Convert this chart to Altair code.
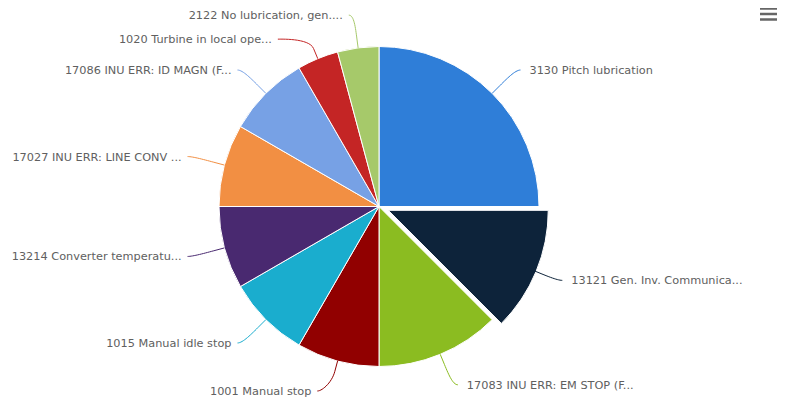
import altair as alt
import pandas as pd
import numpy as np

# ---- data ----
names = [
    "3130 Pitch lubrication",
    "13121 Gen. Inv. Communica...",
    "17083 INU ERR: EM STOP (F...",
    "1001 Manual stop",
    "1015 Manual idle stop",
    "13214 Converter temperatu...",
    "17027 INU ERR: LINE CONV ...",
    "17086 INU ERR: ID MAGN (F...",
    "1020 Turbine in local ope...",
    "2122 No lubrication, gen....",
]
counts = [6, 3, 3, 2, 2, 2, 2, 2, 1, 1]
sliced = [False, True, False, False, False, False, False, False, False, False]
colors = ["#2f7ed8", "#0d233a", "#8bbc21", "#910000", "#1aadce",
          "#492970", "#f28f43", "#77a1e5", "#c42525", "#a6c96a"]

# ---- layout (styling) ----
W, H = 769, 391
CX, CY = 371, 198.5
R_PIE = 160
R_LAB = 193
SLICE_OFF = 10
CONN_OFF = 11
GAP = 24
Y_MAX = H - 8

vals = np.array(counts, dtype=float)
frac = vals / vals.sum()
start = np.concatenate([[0], np.cumsum(frac)[:-1]])
mid = (start + frac / 2) * 2 * np.pi
dx, dy = np.sin(mid), -np.cos(mid)

pie = pd.DataFrame({
    "name": names, "value": counts, "idx": range(len(names)),
    "acx": CX + np.where(sliced, SLICE_OFF, 0) * dx,
    "acy": CY + np.where(sliced, SLICE_OFF, 0) * dy,
})

# label placement (Highcharts-like: circle, pushed apart vertically per side)
right = dx >= 0
ly = np.minimum(CY + R_LAB * dy, Y_MAX)
for side in (True, False):
    ids = [i for i in np.argsort(ly) if right[i] == side]
    prev = -1e9
    for i in ids:
        ly[i] = max(ly[i], prev + GAP)
        prev = ly[i]
lx = CX + np.where(right, 1, -1) * np.sqrt(np.maximum(R_LAB**2 - (ly - CY)**2, 0))

lab = pd.DataFrame({
    "name": names,
    "tx": lx + np.where(right, 14, -11),
    "ty": ly + 1,
    "side": np.where(right, "left", "right"),
})

# connectors: soft (bezier) from label to just outside the pie, then to edge
rows = []
ts = np.linspace(0, 1, 16)
for i, n in enumerate(names):
    e = np.array([lx[i] + (5 if right[i] else -5), ly[i]])
    c1 = np.array([lx[i], ly[i]])
    p2 = np.array([CX + (R_PIE + CONN_OFF) * dx[i], CY + (R_PIE + CONN_OFF) * dy[i]])
    c2 = np.array([CX + (R_PIE + 2 * CONN_OFF) * dx[i], CY + (R_PIE + 2 * CONN_OFF) * dy[i]])
    p4 = np.array([CX + R_PIE * dx[i], CY + R_PIE * dy[i]])
    k = 0
    for t in ts:
        b = (1 - t)**3 * e + 3 * (1 - t)**2 * t * c1 + 3 * (1 - t) * t**2 * c2 + t**3 * p2
        rows.append({"name": n, "k": k, "px": b[0], "py": b[1]}); k += 1
    rows.append({"name": n, "k": k, "px": p4[0], "py": p4[1]})
conn = pd.DataFrame(rows)

color_scale = alt.Scale(domain=names, range=colors)

arcs = alt.Chart(pie).mark_arc(outerRadius=R_PIE, stroke="white", strokeWidth=1).encode(
    theta=alt.Theta("value:Q", stack=True),
    order=alt.Order("idx:Q"),
    color=alt.Color("name:N", scale=color_scale, legend=None),
    x=alt.X("acx:Q", scale=None, axis=None),
    y=alt.Y("acy:Q", scale=None, axis=None),
)

lines = alt.Chart(conn).mark_line(strokeWidth=1, interpolate="linear").encode(
    x=alt.X("px:Q", scale=None, axis=None),
    y=alt.Y("py:Q", scale=None, axis=None),
    color=alt.Color("name:N", scale=color_scale, legend=None),
    detail="name:N",
    order="k:Q",
)

FONT = "DejaVu Sans"
FS = 11.3
txt_r = alt.Chart(lab[lab.side == "left"]).mark_text(
    align="left", baseline="middle", font=FONT, fontSize=FS, color="#606060"
).encode(x=alt.X("tx:Q", scale=None, axis=None), y=alt.Y("ty:Q", scale=None, axis=None), text="name:N")
txt_l = alt.Chart(lab[lab.side == "right"]).mark_text(
    align="right", baseline="middle", font=FONT, fontSize=FS, color="#606060"
).encode(x=alt.X("tx:Q", scale=None, axis=None), y=alt.Y("ty:Q", scale=None, axis=None), text="name:N")

# export menu icon (decoration)
icon = pd.DataFrame({"y": [0.5, 6, 11.5]})
menu = alt.Chart(icon).mark_rule(color="#666666", strokeWidth=2.5).encode(
    x=alt.value(752), x2=alt.value(769), y=alt.Y("y:Q", scale=None, axis=None)
)

chart = alt.layer(arcs, lines, txt_r, txt_l, menu).properties(
    width=W, height=H, padding=0, autosize=alt.AutoSizeParams(type="none")
).configure_view(stroke=None)

chart.save("out.html", embed_options={"renderer": "svg", "actions": False})
